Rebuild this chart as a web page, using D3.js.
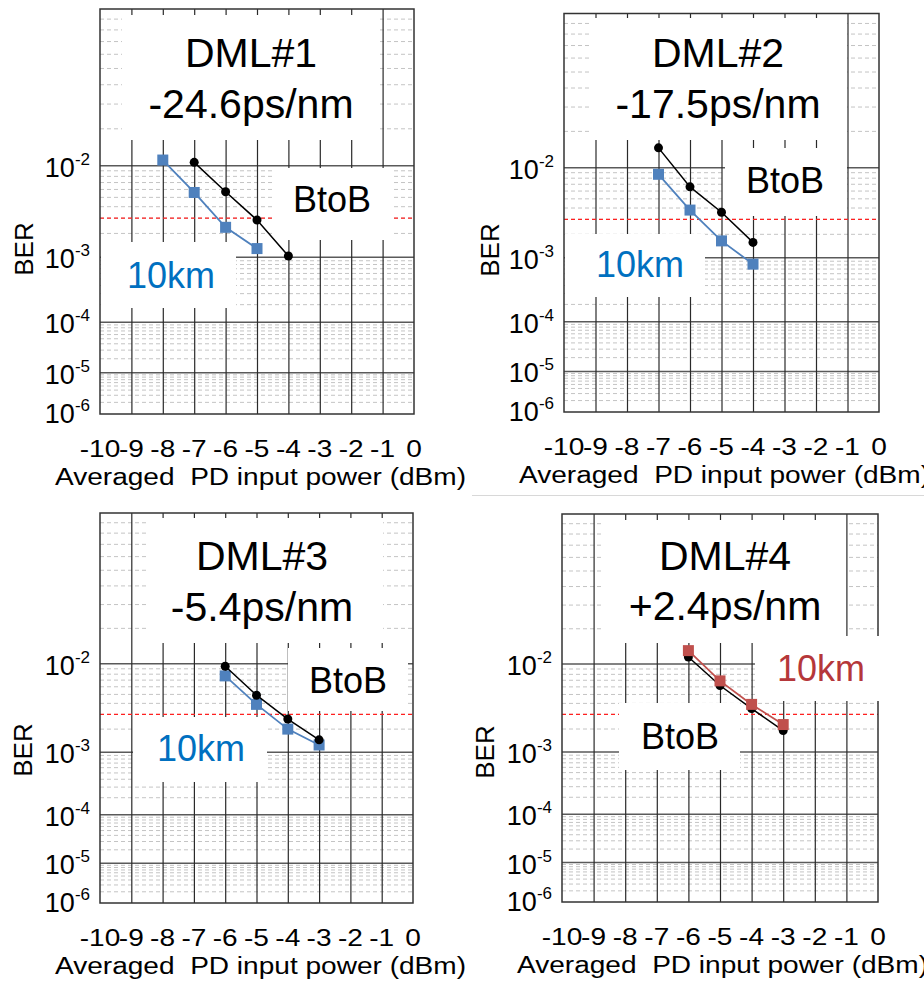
<!DOCTYPE html>
<html>
<head>
<meta charset="utf-8">
<style>
body { margin: 0; background: #fff; }
svg { display: block; font-family: "Liberation Sans", Arial, sans-serif; }
</style>
</head>
<body>
<svg width="924" height="981"></svg>
<script src="https://cdn.jsdelivr.net/npm/d3@7"></script>
<script>

// ---- data ----
var panelNames = ["DML#1", "DML#2", "DML#3", "DML#4"];
var dispersion = ["-24.6ps/nm", "-17.5ps/nm", "-5.4ps/nm", "+2.4ps/nm"];
var xTicks = [-10, -9, -8, -7, -6, -5, -4, -3, -2, -1, 0];
var yTickExp = [-2, -3, -4, -5, -6];
var fecThreshold = 3e-3;

var powerBtoB = [[-7, -6, -5, -4], [-7, -6, -5, -4], [-6, -5, -4, -3], [-6, -5, -4, -3]];
var berBtoB = [
  [1.07e-2, 5.7e-3, 2.86e-3, 1.04e-3],
  [1.48e-2, 6.6e-3, 3.6e-3, 1.59e-3],
  [9.5e-3, 4.9e-3, 2.65e-3, 1.46e-3],
  [1.16e-2, 6.2e-3, 3.5e-3, 1.91e-3]
];
var power10km = [[-8, -7, -6, -5], [-7, -6, -5, -4], [-6, -5, -4, -3], [-6, -5, -4, -3]];
var ber10km = [
  [1.12e-2, 5.6e-3, 2.36e-3, 1.30e-3],
  [8.7e-3, 3.8e-3, 1.66e-3, 8.2e-4],
  [7.7e-3, 3.9e-3, 2.0e-3, 1.25e-3],
  [1.32e-2, 6.9e-3, 3.9e-3, 2.27e-3]
];

// ---- layout of the four panels (plot box, white label boxes, label spots) ----
var layout = [
  { l: 100, r: 414, t: 9, b: 414, berX: 33, berY: 249, color10: "#4f81bd", text10: "#0070c0",
    boxes: [[122, 15, 380, 140], [273, 168, 393, 240], [101, 242, 236, 308]],
    title: [251, 67, 118], btob: [332, 212], km: [171, 288], frontIs10: false },
  { l: 564, r: 879, t: 13.5, b: 412, berX: 499, berY: 250, color10: "#4f81bd", text10: "#0070c0",
    boxes: [[590, 18, 847, 140], [725, 148, 847, 216], [565, 234, 705, 297]],
    title: [718, 67, 118], btob: [785, 193], km: [640, 277], frontIs10: false },
  { l: 100, r: 413, t: 513, b: 903, berX: 32, berY: 750, color10: "#4f81bd", text10: "#0070c0",
    boxes: [[147, 518, 383, 643], [288, 648, 408, 711], [133, 717, 267, 782]],
    title: [262, 570, 621], btob: [348, 693], km: [201, 761], frontIs10: false },
  { l: 562, r: 878, t: 514, b: 902, berX: 494, berY: 752, color10: "#c0504d", text10: "#b5373a",
    boxes: [[604, 520, 846, 643], [755, 636, 881, 701], [619, 703, 740, 770]],
    title: [725, 570, 620], btob: [680, 749], km: [821, 681], frontIs10: true }
];

var svg = d3.select("svg");

// faint separator line between the two right panels
svg.append("line")
    .attr("x1", 472).attr("x2", 924)
    .attr("y1", 495.5).attr("y2", 495.5)
    .attr("stroke", "#d8d8d8").attr("stroke-width", 1);

// minor BER values: 2..9 x 10^-2 ... 10^-6
var minorVals = [];
[-2, -3, -4, -5, -6].forEach(function(e) {
  for (var m = 2; m <= 9; m++) minorVals.push(m * Math.pow(10, e));
});
var majorVals = [1e-2, 1e-3, 1e-4, 1e-5];

layout.forEach(function(p, i) {
  var g = svg.append("g");

  var x = d3.scaleLinear().domain([-10, 0]).range([p.l, p.r]);
  // BER drawn on a log(-log10 BER) scale: 10^-1 at the top, 10^-6 at the bottom
  var yl = d3.scaleLog().domain([1, 6]).range([p.t, p.b]);
  var y = function(ber) { return yl(-Math.log10(ber)); };

  // minor dashed grid
  g.append("g").selectAll("line")
    .data(minorVals)
    .enter().append("line")
      .attr("x1", p.l).attr("x2", p.r)
      .attr("y1", function(d) { return y(d); })
      .attr("y2", function(d) { return y(d); })
      .attr("stroke", "#c4c4c4")
      .attr("stroke-dasharray", "4,3")
      .attr("stroke-width", 1);

  // major decade lines
  g.append("g").selectAll("line")
    .data(majorVals)
    .enter().append("line")
      .attr("x1", p.l).attr("x2", p.r)
      .attr("y1", function(d) { return y(d); })
      .attr("y2", function(d) { return y(d); })
      .attr("stroke", "#5a5a5a")
      .attr("stroke-width", 1.5);

  // vertical grid from the x axis
  g.append("g")
      .attr("transform", "translate(0," + p.b + ")")
      .call(d3.axisBottom(x).tickValues(xTicks.slice(1, -1)).tickSize(-(p.b - p.t)).tickFormat(""))
      .call(function(a) { a.select(".domain").remove(); })
      .selectAll("line")
        .attr("stroke", "#2a2a2a")
        .attr("stroke-width", 1.2);

  // FEC threshold
  g.append("line")
      .attr("x1", p.l).attr("x2", p.r)
      .attr("y1", y(fecThreshold)).attr("y2", y(fecThreshold))
      .attr("stroke", "#ff2020")
      .attr("stroke-dasharray", "4,3")
      .attr("stroke-width", 1.2);

  // plot frame
  g.append("rect")
      .attr("x", p.l).attr("y", p.t)
      .attr("width", p.r - p.l).attr("height", p.b - p.t)
      .attr("fill", "none")
      .attr("stroke", "#333")
      .attr("stroke-width", 1.5);

  // white backgrounds of the labels
  g.append("g").selectAll("rect")
    .data(p.boxes)
    .enter().append("rect")
      .attr("x", function(d) { return d[0]; })
      .attr("y", function(d) { return d[1]; })
      .attr("width", function(d) { return d[2] - d[0]; })
      .attr("height", function(d) { return d[3] - d[1]; })
      .attr("fill", "#fff");

  // series
  var line = d3.line()
      .x(function(d) { return x(d[0]); })
      .y(function(d) { return y(d[1]); });

  var btob = d3.zip(powerBtoB[i], berBtoB[i]);
  var km = d3.zip(power10km[i], ber10km[i]);

  function drawBtoB() {
    g.append("path").datum(btob)
        .attr("d", line)
        .attr("fill", "none")
        .attr("stroke", "#000")
        .attr("stroke-width", 1.5);
    g.append("g").selectAll("circle")
      .data(btob)
      .enter().append("circle")
        .attr("cx", function(d) { return x(d[0]); })
        .attr("cy", function(d) { return y(d[1]); })
        .attr("r", 4.5)
        .attr("fill", "#000");
  }
  function draw10km() {
    g.append("path").datum(km)
        .attr("d", line)
        .attr("fill", "none")
        .attr("stroke", p.color10)
        .attr("stroke-width", 1.8);
    g.append("g").selectAll("rect")
      .data(km)
      .enter().append("rect")
        .attr("x", function(d) { return x(d[0]) - 5.5; })
        .attr("y", function(d) { return y(d[1]) - 5.5; })
        .attr("width", 11).attr("height", 11)
        .attr("fill", p.color10);
  }
  if (p.frontIs10) { drawBtoB(); draw10km(); } else { draw10km(); drawBtoB(); }

  // panel annotations
  var title = g.append("text")
      .attr("text-anchor", "middle")
      .attr("font-size", 41)
      .attr("fill", "#000");
  title.append("tspan").attr("x", p.title[0]).attr("y", p.title[1]).text(panelNames[i]);
  title.append("tspan").attr("x", p.title[0]).attr("y", p.title[2]).text(dispersion[i]);

  g.append("text")
      .attr("x", p.btob[0]).attr("y", p.btob[1])
      .attr("text-anchor", "middle")
      .attr("font-size", 36)
      .attr("fill", "#000")
      .text("BtoB");

  g.append("text")
      .attr("x", p.km[0]).attr("y", p.km[1])
      .attr("text-anchor", "middle")
      .attr("font-size", 36)
      .attr("fill", p.text10)
      .text("10km");

  // y tick labels 10^n
  var yt = g.append("g").selectAll("text")
    .data(yTickExp)
    .enter().append("text")
      .attr("x", p.l - 10)
      .attr("y", function(d) { return y(Math.pow(10, d)) + (d === -6 ? 9 : 11); })
      .attr("text-anchor", "end")
      .attr("font-size", 27)
      .attr("fill", "#000");
  yt.append("tspan").text("10");
  yt.append("tspan")
      .attr("font-size", 17)
      .attr("dy", -12)
      .text(function(d) { return d; });

  // x tick labels, drawn a little wider like the original export
  g.append("g").selectAll("text")
    .data(xTicks)
    .enter().append("text")
      .attr("transform", function(d) { return "translate(" + x(d) + "," + (p.b + 43) + ") scale(1.22,1)"; })
      .attr("text-anchor", "middle")
      .attr("font-size", 23)
      .attr("fill", "#000")
      .text(function(d) { return d; });

  // axis titles
  g.append("text")
      .attr("x", p.l - 45)
      .attr("y", p.b + 71)
      .attr("font-size", 23)
      .attr("textLength", 411)
      .attr("lengthAdjust", "spacingAndGlyphs")
      .attr("fill", "#000")
      .text("Averaged\u00a0 PD input power (dBm)");

  g.append("text")
      .attr("transform", "translate(" + p.berX + "," + p.berY + ") rotate(-90)")
      .attr("text-anchor", "middle")
      .attr("font-size", 26)
      .attr("fill", "#000")
      .text("BER");
});

</script>
</body>
</html>
